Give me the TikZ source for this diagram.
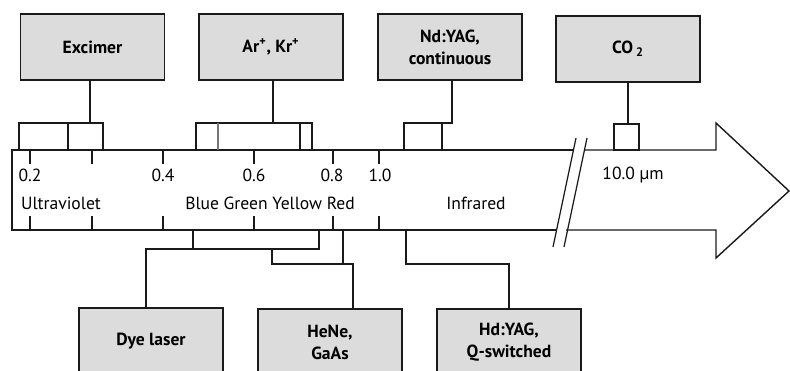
\documentclass[tikz,border=0pt]{standalone}
\usepackage{fontspec}
\setmainfont{PT Sans}
\usetikzlibrary{positioning, calc}
\definecolor{cbox}{HTML}{DCDCDC}
\definecolor{cline}{HTML}{1A1A1A}
\tikzset{
  every picture/.style={font=\fontsize{10}{11.5}\selectfont, line width=0.6pt},
  laser/.style={draw=cline, fill=cbox, line width=1.1pt, align=center, inner sep=2pt,
                minimum width=2.88cm, minimum height=1.32cm, font=\fontsize{10}{12.5}\selectfont\bfseries},
  link/.style={draw=cline, line width=0.7pt},
  band/.style={draw=cline, line width=0.8pt},
  scale label/.style={inner sep=0pt},
}

\begin{document}
\begin{tikzpicture}[x=0.02cm, y=-0.02cm]
  \path[use as bounding box] (0,0) rectangle (790,371);
  \clip (0,0) rectangle (790,371);
  % spectrum arrow, broken at the two slashes
  \draw[band] (573,150) -- (12,150) -- (12,230) -- (556,230);
  \draw[band] (585,150) -- (716,150) -- (716,123) -- (789,191) -- (716,258) -- (716,230) -- (566,230);
  \draw[link] (576,138) -- (553,247);
  \draw[link] (587,138) -- (564,247);
  \foreach \x in {30, 92, 163, 254, 333, 379} {
    \draw[link] (\x,150) -- (\x,164);
    \draw[link] (\x,216) -- (\x,230);
  }
  \foreach \x/\t [count=\i] in {30/0.2, 163/0.4, 254/0.6, 332/0.8, 380/1.0, 633/10.0 µm}
    \node[scale label] (tick\i) at (\x,175) {\t};
  \node[scale label] (uv) at (61,203) {Ultraviolet};
  \node[scale label] (vis) at (270,203) {Blue Green Yellow Red};
  \node[scale label] (ir) at (476,203) {Infrared};

  % lasers above the arrow
  \node[laser] (excimer) at (92.5,47) {Excimer};
  \node[laser] (arkr) at (271,47) {Ar\textsuperscript{+}, Kr\textsuperscript{+}};
  \node[laser] (ndcw) at (450,47) {Nd:YAG,\\continuous};
  \node[laser] (co2) at (628,49) {CO\,\textsubscript{2}};
  \draw[link] (19,150) rectangle (103,123);
  \draw[link] (68,123) -- (68,150);
  \coordinate (excimer-in) at (90,123);
  \draw[link] (excimer-in) -- (excimer-in |- excimer.south);
  \draw[link] (196,150) rectangle (312,123);
  \draw[link, cline!60] (218,123) -- (218,150);
  \draw[link] (300,123) -- (300,150);
  \coordinate (arkr-in) at (273,123);
  \draw[link] (arkr-in) -- (arkr-in |- arkr.south);
  \draw[link] (404,150) rectangle (442,123);
  \coordinate (ndcw-in) at (442,123);
  \draw[link] (ndcw-in) -| (ndcw.south -| 452,0);
  \draw[link] (614,150) rectangle (639,124);
  \coordinate (co2-in) at (628,124);
  \draw[link] (co2-in) -- (co2-in |- co2.south);

  % lasers below the arrow
  \node[laser, anchor=north] (dye) at (151,307) {Dye laser};
  \node[laser, anchor=north] (hene) at (330,308) {HeNe,\\GaAs};
  \node[laser, anchor=north] (ndq) at (509,308) {Hd:YAG,\\Q-switched};
  \coordinate (dye-a) at (193,230);
  \coordinate (dye-b) at (319,230);
  \draw[link] (dye-a) -- ++(0,19);
  \draw[link] (dye.north -| 146,0) -- (146,249) -- (319,249) -- (dye-b);
  \coordinate (hene-a) at (272,249);
  \coordinate (gaas-a) at (343,230);
  \draw[link] (hene-a) -- (272,264) -- (353,264) -- (hene.north -| 353,0);
  \draw[link] (gaas-a) -- (343,264);
  \coordinate (ndq-a) at (406,230);
  \draw[link] (ndq-a) -- (406,264) -| (ndq.north);
\end{tikzpicture}
\end{document}
